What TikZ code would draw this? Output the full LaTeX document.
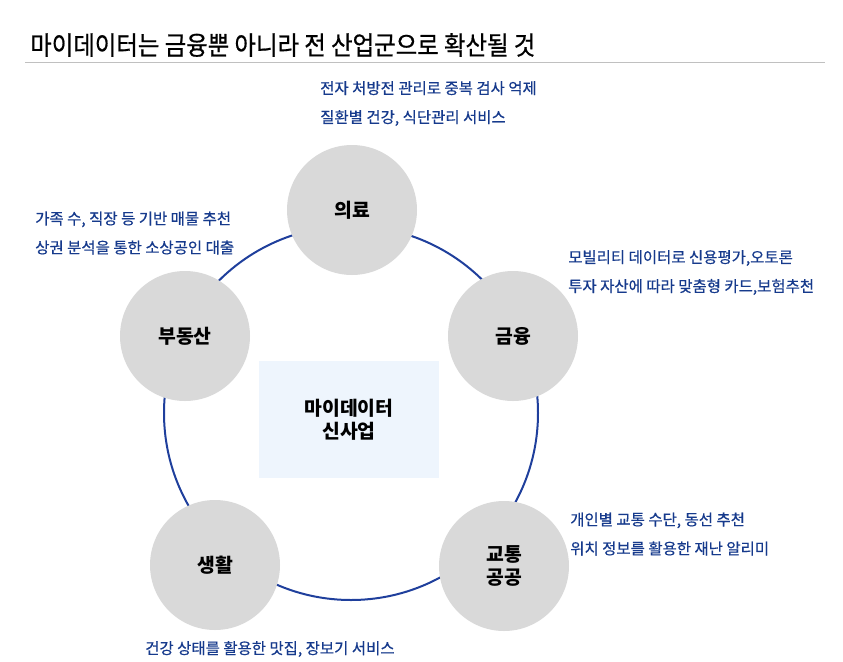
\documentclass[tikz,border=0pt]{standalone}
\usepackage{fontspec}
\setmainfont{Noto Sans CJK KR}
\newfontfamily\titlefont[FakeStretch=0.9,FakeBold=0.6]{Noto Sans CJK KR}
\newfontfamily\memofont[FakeBold=0.5]{Noto Sans CJK KR}
\definecolor{sectorgray}{HTML}{D9D9D9}
\definecolor{ringblue}{HTML}{1F3F9C}
\definecolor{memoblue}{HTML}{163A8C}
\definecolor{corefill}{HTML}{EEF5FD}
\definecolor{rulegray}{HTML}{C0C0C0}

\begin{document}
\begin{tikzpicture}[x=0.75pt,y=-0.75pt]
\tikzstyle{sector}=[circle, fill=sectorgray, minimum size=97.5pt, inner sep=0pt, align=center, font=\fontsize{14.5}{17.5}\selectfont\bfseries]
\tikzstyle{ring}=[circle, draw=ringblue, line width=1.5pt, minimum size=280.5pt, inner sep=0pt]
\tikzstyle{core}=[fill=corefill, minimum width=135pt, minimum height=87.75pt, align=center, font=\fontsize{14.5}{17.5}\selectfont\bfseries]
\tikzstyle{memo}=[anchor=west, inner sep=0pt, align=left, text=memoblue, font=\memofont\fontsize{11.6}{21.75}\selectfont]

\useasboundingbox (0,0) rectangle (843,661);

\draw (30,45) node[anchor=west, inner sep=0pt, font=\titlefont\fontsize{19.5}{22}\selectfont] (title) {마이데이터는 금융뿐 아니라 전 산업군으로 확산될 것};
\coordinate (r1) at (25,62);
\coordinate (r2) at (825,62);
\draw[rulegray, line width=0.75pt] (r1) -- (r2);

\draw (351,413) node[ring] (ring) {};

\draw (349,419.5) node[core] (core) {마이데이터\\신사업};

\draw (352,210) node[sector] (med) {의료};
\draw (513,336) node[sector] (fin) {금융};
\draw (504,566) node[sector] (pub) {교통\\공공};
\draw (215,565) node[sector] (life) {생활};
\draw (185,336) node[sector] (estate) {부동산};

\draw (320,103.5) node[memo] (medmemo) {전자 처방전 관리로 중복 검사 억제\\질환별 건강, 식단관리 서비스};
\draw (35,233) node[memo] (estatememo) {가족 수, 직장 등 기반 매물 추천\\상권 분석을 통한 소상공인 대출};
\draw (568,272.5) node[memo] (finmemo) {모빌리티 데이터로 신용평가,오토론\\투자 자산에 따라 맞춤형 카드,보험추천};
\draw (570,534) node[memo] (pubmemo) {개인별 교통 수단, 동선 추천\\위치 정보를 활용한 재난 알리미};
\draw (145,649) node[memo] (lifememo) {건강 상태를 활용한 맛집, 장보기 서비스};

\end{tikzpicture}
\end{document}
